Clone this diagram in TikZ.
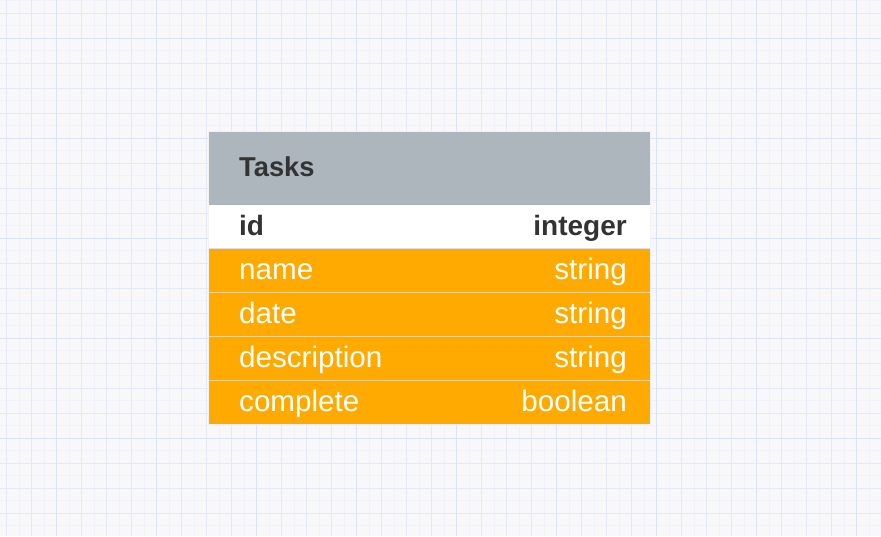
\documentclass[tikz,border=0pt]{standalone}
\usepackage{fontspec}
\setmainfont{Liberation Sans}
\definecolor{bgc}{HTML}{F8F8FA}
\definecolor{gminor}{HTML}{F0F1F9}
\definecolor{gmed}{HTML}{E5E8FA}
\definecolor{gmajor}{HTML}{DDE2FB}
\definecolor{hdrc}{HTML}{ADB5BD}
\definecolor{orc}{HTML}{FFAA00}
\definecolor{sepc}{HTML}{FFD58A}
\definecolor{txtc}{HTML}{333333}
\tikzset{
  tlabel/.style={anchor=base west, inner sep=0pt, font=\fontsize{29.6}{32}\selectfont},
  ttype/.style={anchor=base east, inner sep=0pt, font=\fontsize{29.6}{32}\selectfont},
}
\begin{document}
\begin{tikzpicture}[x=1pt,y=-1pt]
\useasboundingbox (0,0) rectangle (881,536);
\fill[bgc] (0,0) rectangle (881,536);
% grid
\foreach \i in {0,...,70} {
  \pgfmathsetmacro{\xx}{6.7+12.5*\i}
  \draw[gminor, line width=0.8pt] (\xx,0) -- (\xx,536);
}
\foreach \i in {0,...,43} {
  \pgfmathsetmacro{\yy}{0.8+12.5*\i}
  \draw[gminor, line width=0.8pt] (0,\yy) -- (881,\yy);
}
\foreach \i in {0,...,35} {
  \pgfmathsetmacro{\xx}{6.7+25*\i}
  \draw[gmed, line width=0.8pt] (\xx,0) -- (\xx,536);
}
\foreach \i in {0,...,21} {
  \pgfmathsetmacro{\yy}{13.3+25*\i}
  \draw[gmed, line width=0.8pt] (0,\yy) -- (881,\yy);
}
\foreach \i in {0,...,8} {
  \pgfmathsetmacro{\xx}{56.7+100*\i}
  \draw[gmajor, line width=0.8pt] (\xx,0) -- (\xx,536);
}
\foreach \i in {0,...,5} {
  \pgfmathsetmacro{\yy}{38.3+100*\i}
  \draw[gmajor, line width=0.8pt] (0,\yy) -- (881,\yy);
}
% table
\fill[white] (208.7,131) rectangle (650.7,424.7);
\fill[hdrc] (208.7,131) rectangle (650.7,204.5);
\fill[white] (208.7,204.5) rectangle (650.7,248.5);
\fill[orc] (208.7,248.5) rectangle (650.7,424.7);
\draw[gray!25, line width=0.8pt] (208.7,248.5) -- (650.7,248.5);
\foreach \yy in {292.5,336.5,380.5}
  \draw[sepc, line width=1pt] (208.7,\yy) -- (650.7,\yy);
\draw[white!90!gray, line width=0.6pt] (208.7,131) rectangle (650.7,424.7);
% texts
\node[tlabel, text=txtc, font=\fontsize{27.3}{32}\selectfont\bfseries] (title) at (239,176) {Tasks};
\node[tlabel, text=txtc, font=\fontsize{28}{32}\selectfont\bfseries] (idl) at (239,235) {id};
\node[ttype, text=txtc, font=\fontsize{28}{32}\selectfont\bfseries] (idt) at (627,235) {integer};
\node[tlabel, text=white] (namel) at (239,279) {name};
\node[ttype, text=white] (namet) at (627,279) {string};
\node[tlabel, text=white] (datel) at (239,323) {date};
\node[ttype, text=white] (datet) at (627,323) {string};
\node[tlabel, text=white] (descl) at (239,367) {description};
\node[ttype, text=white] (desct) at (627,367) {string};
\node[tlabel, text=white] (compl) at (239,411) {complete};
\node[ttype, text=white] (compt) at (627,411) {boolean};
\end{tikzpicture}
\end{document}
